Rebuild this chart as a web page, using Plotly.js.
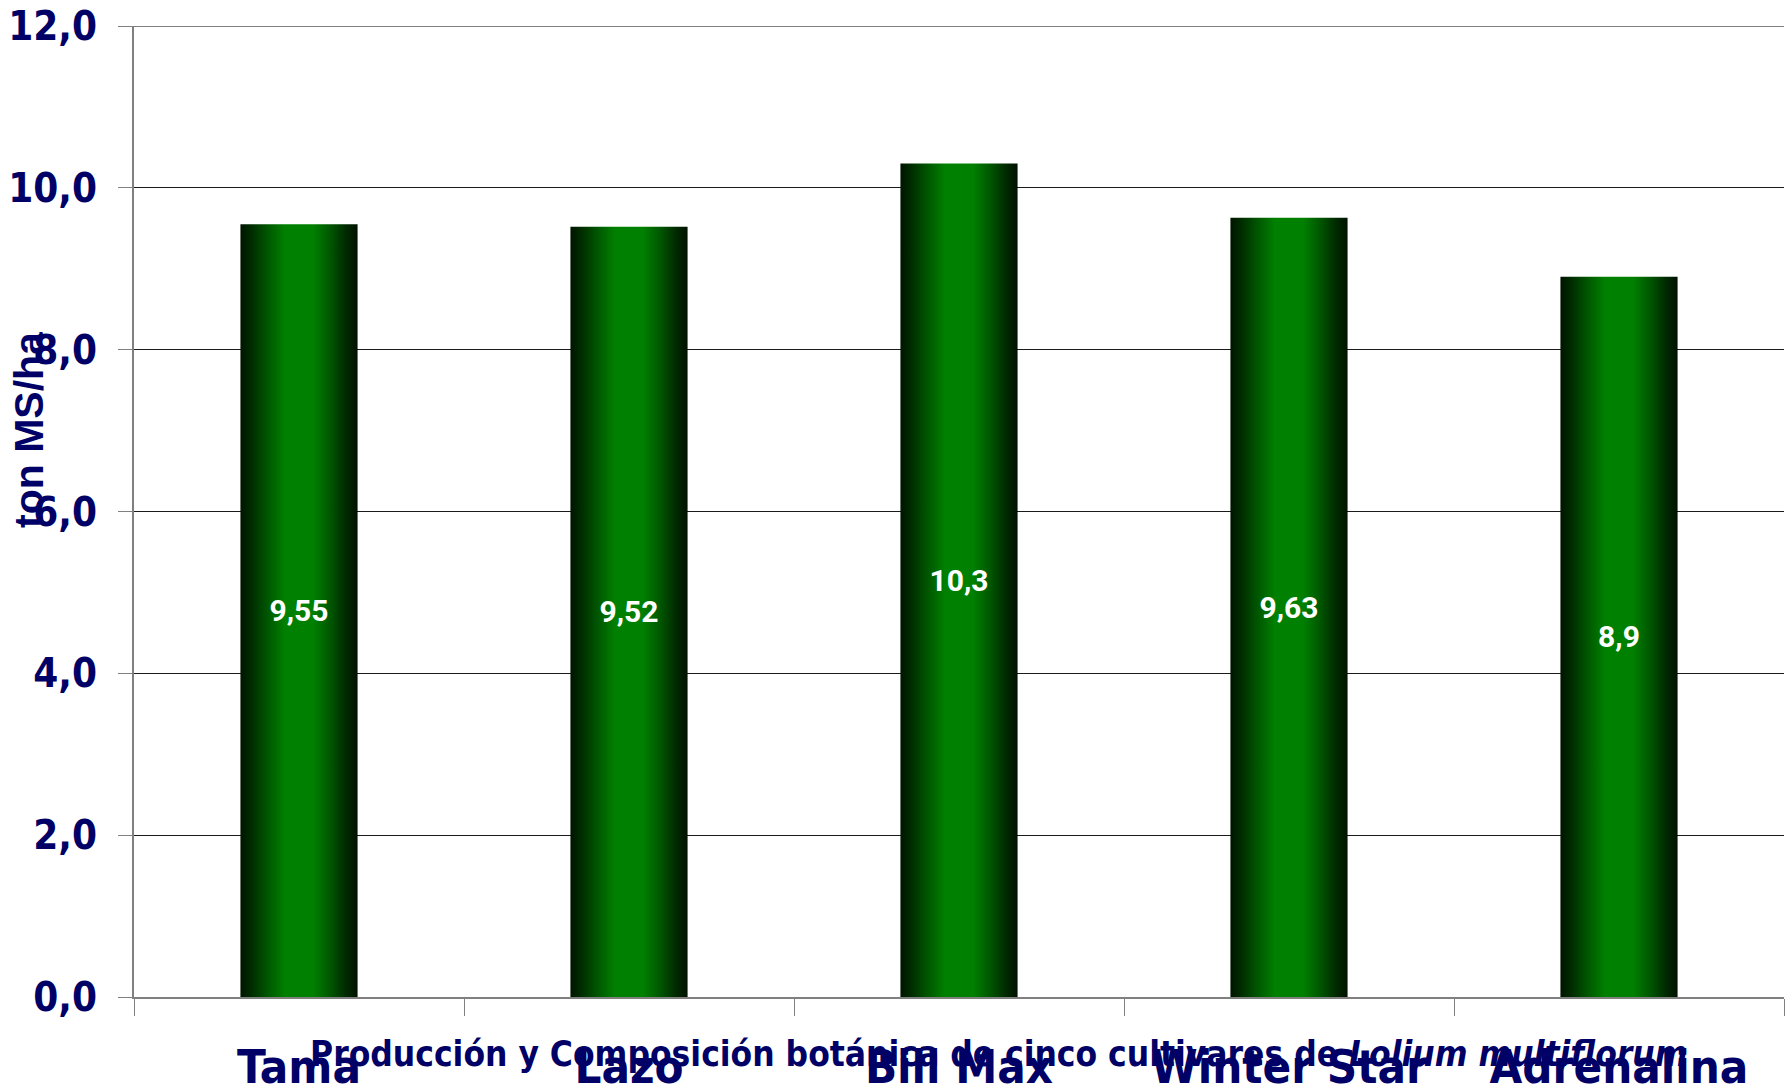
<!DOCTYPE html>
<html>
<head>
<meta charset="utf-8">
<script src="https://cdn.plot.ly/plotly-3.0.1.min.js"></script>
<style>
  html, body { margin: 0; padding: 0; background: #fff; }
  #chart { width: 1790px; height: 1091px; }
</style>
</head>
<body>
<div id="chart"></div>
<script>
// ---- data ----
const cultivares = ["Tama", "Lazo", "Bill Max", "Winter Star", "Adrenalina"];
const produccion = [9.55, 9.52, 10.3, 9.63, 8.9];
const yTickVals = [0, 2, 4, 6, 8, 10, 12];

const navy = "#000066";
const comic = "DejaVu Sans Condensed, DejaVu Sans, sans-serif";

const trace = {
  type: "bar",
  x: cultivares,
  y: produccion,
  marker: { color: "#008000", line: { width: 0 } },
  texttemplate: "%{y:.2~f}",
  textposition: "inside",
  insidetextanchor: "middle",
  textangle: 0,
  insidetextfont: { family: "Roboto, Liberation Sans, sans-serif", size: 30, color: "#ffffff", weight: "bold" },
  hoverinfo: "none",
  cliponaxis: false
};

const layout = {
  width: 1790,
  height: 1091,
  margin: { l: 134, r: 6, t: 26, b: 94 },
  paper_bgcolor: "#ffffff",
  plot_bgcolor: "#ffffff",
  separators: ",.",
  bargap: 0.645,
  showlegend: false,
  title: {
    text: "Producción y Composición botánica de cinco cultivares de <i>Lolium multiflorum</i>",
    font: { family: comic, size: 35, color: navy, weight: "bold" },
    xref: "container", x: 0.558, xanchor: "center",
    yref: "container", y: 0.034, yanchor: "middle"
  },
  xaxis: {
    type: "category",
    tickson: "boundaries",
    ticks: "outside",
    ticklen: 17,
    tickwidth: 1,
    tickcolor: "#808080",
    showline: true,
    linecolor: "#808080",
    linewidth: 2,
    showgrid: false,
    tickfont: { family: comic, size: 47, color: navy, weight: "bold" },
    ticklabelstandoff: 28,
    fixedrange: true
  },
  yaxis: {
    range: [0, 12],
    tickvals: yTickVals,
    tickformat: ".1f",
    ticks: "outside",
    ticklen: 14,
    tickwidth: 1,
    tickcolor: "#808080",
    showline: true,
    linecolor: "#808080",
    linewidth: 2,
    showgrid: true,
    gridcolor: "#1a1a1a",
    gridwidth: 1,
    zeroline: false,
    tickfont: { family: comic, size: 40, color: navy, weight: "bold" },
    ticklabelstandoff: 13,
    fixedrange: true
  },
  shapes: [
    { type: "line", xref: "paper", yref: "y", x0: 0, x1: 1, y0: 12, y1: 12,
      line: { color: "#808080", width: 2 } }
  ],
  annotations: [
    {
      text: "<b>ton MS/ha</b>",
      xref: "paper", yref: "paper",
      x: -0.0636, y: 0.584,
      xanchor: "center", yanchor: "middle",
      textangle: -90,
      showarrow: false,
      font: { family: "Liberation Sans, Arial, sans-serif", size: 41, color: navy }
    }
  ]
};

function applyGradient() {
  const svg = document.querySelector("#chart .main-svg");
  if (!svg) return;
  let defs = svg.querySelector("defs");
  if (!defs) {
    defs = document.createElementNS("http://www.w3.org/2000/svg", "defs");
    svg.insertBefore(defs, svg.firstChild);
  }
  if (!document.getElementById("barGrad")) {
    const g = document.createElementNS("http://www.w3.org/2000/svg", "linearGradient");
    g.setAttribute("id", "barGrad");
    g.setAttribute("x1", "0"); g.setAttribute("y1", "0");
    g.setAttribute("x2", "1"); g.setAttribute("y2", "0");
    const stops = [
      [0, "#001400"], [0.1, "#002e00"], [0.25, "#005c00"], [0.38, "#008000"],
      [0.62, "#008000"], [0.78, "#005200"], [0.9, "#002a00"], [1, "#001200"]
    ];
    stops.forEach(([o, c]) => {
      const s = document.createElementNS("http://www.w3.org/2000/svg", "stop");
      s.setAttribute("offset", o);
      s.setAttribute("stop-color", c);
      g.appendChild(s);
    });
    defs.appendChild(g);
  }
  document.querySelectorAll("#chart .bars .point path").forEach(p => {
    p.style.fill = "url(#barGrad)";
  });
}

Plotly.newPlot("chart", [trace], layout, { staticPlot: true, displayModeBar: false })
  .then(applyGradient);
</script>
</body>
</html>
